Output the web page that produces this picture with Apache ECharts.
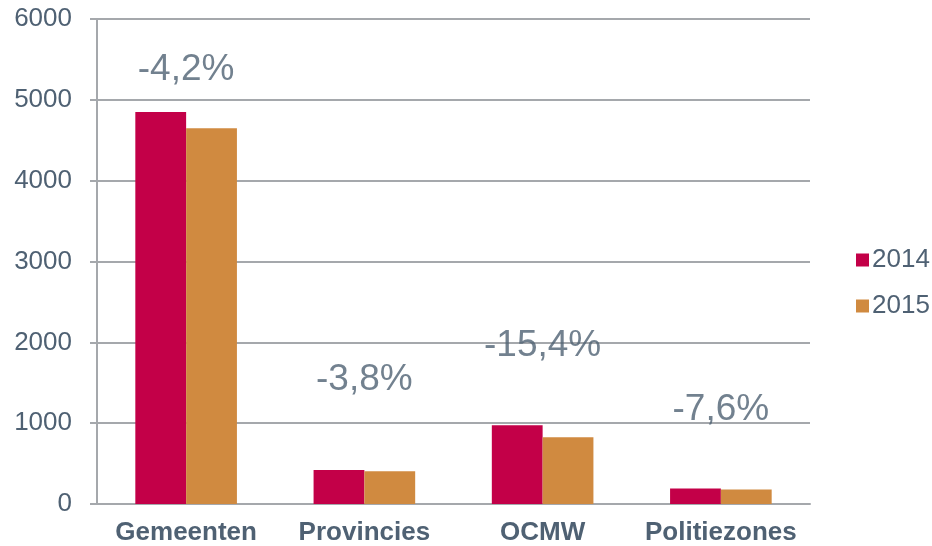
<!DOCTYPE html>
<html>
<head>
<meta charset="utf-8">
<script src="https://cdn.jsdelivr.net/npm/echarts@6/dist/echarts.min.js"></script>
<style>
  html, body { margin: 0; padding: 0; background: #fff; }
  #chart { width: 932px; height: 546px; }
</style>
</head>
<body>
<div id="chart"></div>
<script>
// categories and values
const categories = ['Gemeenten', 'Provincies', 'OCMW', 'Politiezones'];
const values2014 = [4850, 420, 975, 193];
const values2015 = [4650, 405, 825, 179];
// change labels and the value height where each one sits
const pctLabels = ['-4,2%', '-3,8%', '-15,4%', '-7,6%'];
const pctLabelY = [5370, 1540, 1960, 1160];

const textColor = '#4F6173';
const gridColor = '#A5A8AC';
const font = '"Liberation Sans", Arial, sans-serif';

const chart = echarts.init(document.getElementById('chart'), null, { renderer: 'canvas' });

const option = {
  animation: false,
  grid: { left: 97, right: 122, top: 19, bottom: 42 },
  legend: {
    orient: 'vertical',
    left: 851,
    top: 242,
    itemWidth: 13,
    itemHeight: 13,
    itemGap: 20,
    icon: 'rect',
    data: ['2014', '2015'],
    textStyle: { color: textColor, fontSize: 26, fontFamily: font, padding: [0, 0, 0, -2] }
  },
  xAxis: {
    type: 'category',
    data: categories,
    axisLine: { lineStyle: { color: gridColor, width: 2 } },
    axisTick: { length: 6, lineStyle: { color: gridColor, width: 2 } },
    axisLabel: { interval: 0, color: textColor, fontSize: 26, fontWeight: 'bold', fontFamily: font, margin: 16 }
  },
  yAxis: {
    type: 'value',
    min: 0,
    max: 6000,
    interval: 1000,
    axisLine: { show: true, lineStyle: { color: gridColor, width: 2 } },
    axisTick: { show: true, length: 7, lineStyle: { color: gridColor, width: 2 } },
    splitLine: { lineStyle: { color: gridColor, width: 2 } },
    axisLabel: { formatter: v => String(v), color: textColor, fontSize: 26, fontFamily: font, margin: 25 }
  },
  series: [
    {
      name: '2014',
      type: 'bar',
      data: values2014,
      barGap: '0%',
      barCategoryGap: '43%',
      itemStyle: { color: '#C30048' }
    },
    {
      name: '2015',
      type: 'bar',
      data: values2015,
      itemStyle: { color: '#D08A40' }
    },
    {
      name: 'labels',
      type: 'scatter',
      symbolSize: 1,
      itemStyle: { color: 'rgba(0,0,0,0)' },
      data: pctLabels.map((t, i) => ({ value: [i, pctLabelY[i]], name: t })),
      label: {
        show: true,
        position: 'inside',
        formatter: p => p.name,
        color: textColor,
        fontSize: 37,
        fontFamily: font
      },
      silent: true,
      z: 5
    }
  ]
};

chart.setOption(option);
</script>
</body>
</html>
